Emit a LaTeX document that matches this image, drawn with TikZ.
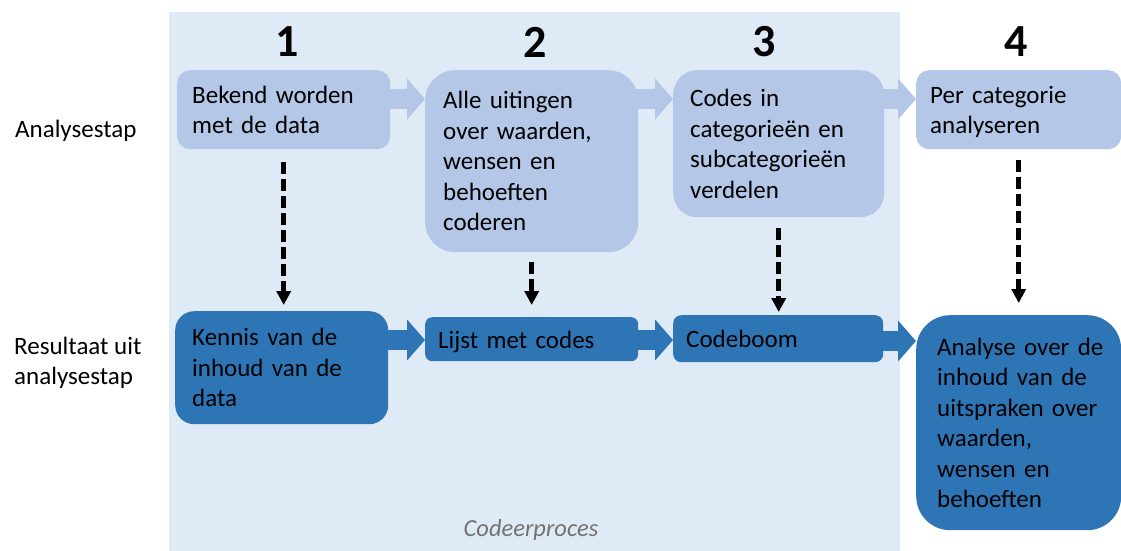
\documentclass[tikz,border=0pt]{standalone}
\usepackage{fontspec}
\setmainfont{Carlito}
\usetikzlibrary{arrows.meta,calc}
\definecolor{panelbg}{HTML}{DEEAF6}
\definecolor{stepfill}{HTML}{B4C7E7}
\definecolor{resultfill}{HTML}{2E75B6}
\definecolor{captiongray}{HTML}{767171}
\tikzset{
  txt/.style={font=\fontsize{25}{30.5}\selectfont},
  box/.style={txt, anchor=north west, inner ysep=0pt, align=left},
  stepbox/.style={box, fill=stepfill},
  resultbox/.style={box, fill=resultfill},
  numlabel/.style={font=\fontsize{46}{46}\selectfont\bfseries},
  rowlabel/.style={txt, anchor=west, align=left, inner sep=0pt},
  flow/.style={line width=20pt, -{Triangle[width=40pt,length=18pt]}},
  dashflow/.style={line width=4.5pt, dash pattern=on 12pt off 5pt, -{Triangle[width=14pt,length=14pt]}}
}
\begin{document}
\begin{tikzpicture}[x=1pt,y=-1pt]
  \useasboundingbox (0,0) rectangle (1121,550);
  \clip (0,0) rectangle (1121,550);

  % shaded coding-process panel
  \node[fill=panelbg, anchor=north west, inner sep=0pt,
        minimum width=731pt, minimum height=540pt] (panel) at (169,12) {};
  \node[txt, font=\fontsize{24.5}{30}\selectfont\itshape, text=captiongray] (caption) at (531,530) {Codeerproces};

  % step numbers
  \node[numlabel] (n1) at (287,42) {1};
  \node[numlabel] (n2) at (535,42) {2};
  \node[numlabel] (n3) at (764,42) {3};
  \node[numlabel] (n4) at (1016,42) {4};

  % row labels
  \node[rowlabel] (lab1) at (15,131) {Analysestap};
  \node[rowlabel] (lab2) at (14,363) {Resultaat uit\\analysestap};

  % analysis steps
  \node[stepbox, inner xsep=15pt, text width=183pt, minimum width=213pt, minimum height=79pt, rounded corners=13pt]
    (s1) at (177,70) {Bekend~worden\\met~de~data};
  \node[stepbox, inner xsep=18pt, text width=177pt, minimum width=213pt, minimum height=182pt, rounded corners=30pt]
    (s2) at (425,70) {Alle~uitingen\\over~waarden,\\wensen~en\\behoeften\\coderen};
  \node[stepbox, inner xsep=17pt, text width=177pt, minimum width=211pt, minimum height=147pt, rounded corners=24pt]
    (s3) at (673,70) {Codes~in\\categorieën~en\\subcategorieën\\verdelen};
  \node[stepbox, inner xsep=14pt, text width=177pt, minimum width=205pt, minimum height=79pt, rounded corners=13pt]
    (s4) at (916,70) {\rule{0pt}{21.5pt}Per~categorie\\analyseren};

  % results
  \node[resultbox, inner xsep=17pt, text width=179pt, minimum width=213pt, minimum height=113pt, rounded corners=19pt]
    (r1) at (175,311) {Kennis~van~de\\inhoud~van~de\\data};
  \node[resultbox, inner xsep=13pt, text width=187pt, minimum width=213pt, minimum height=44pt, rounded corners=7pt]
    (r2) at (425,317) {\rule{0pt}{23.5pt}Lijst~met~codes};
  \node[resultbox, inner xsep=13pt, text width=184pt, minimum width=210pt, minimum height=47pt, rounded corners=8pt]
    (r3) at (673,315) {Codeboom};
  \node[resultbox, inner xsep=21pt, text width=163pt, minimum width=205pt, minimum height=215pt, rounded corners=34pt]
    (r4) at (916,315) {Analyse~over~de\\inhoud~van~de\\uitspraken~over\\waarden,\\wensen~en\\behoeften};

  % flow levels
  \coordinate (toprow) at (0,99);
  \coordinate (botrow) at (0,340);

  % block arrows between steps
  \draw[flow, stepfill] ($(s1.east |- toprow)+(-10,0)$) -- (s2.west |- toprow);
  \draw[flow, stepfill] ($(s2.east |- toprow)+(-12,0)$) -- (s3.west |- toprow);
  \draw[flow, stepfill] ($(s3.east |- toprow)+(-10,0)$) -- (s4.west |- toprow);

  % block arrows between results
  \draw[flow, resultfill] ($(r1.east |- botrow)+(-10,0)$) -- (r2.west |- botrow);
  \draw[flow, resultfill] ($(r2.east |- botrow)+(-6,0)$) -- (r3.west |- botrow);
  \draw[flow, resultfill] ($(r3.east |- botrow)+(-6,1)$) -- ($(r4.west |- botrow)+(0,1)$);

  % each step yields a result
  \draw[dashflow] ($(s1.south)+(0,13)$) -- ($(s1.south |- r1.north)+(0,-6)$);
  \draw[dashflow] ($(s2.south)+(0,10)$) -- ($(s2.south |- r2.north)+(0,-12)$);
  \draw[dashflow] ($(s3.south)+(0,11)$) -- ($(s3.south |- r3.north)+(0,-3)$);
  \draw[dashflow] ($(s4.south)+(0,11)$) -- ($(s4.south |- r4.north)+(0,-12)$);
\end{tikzpicture}
\end{document}
